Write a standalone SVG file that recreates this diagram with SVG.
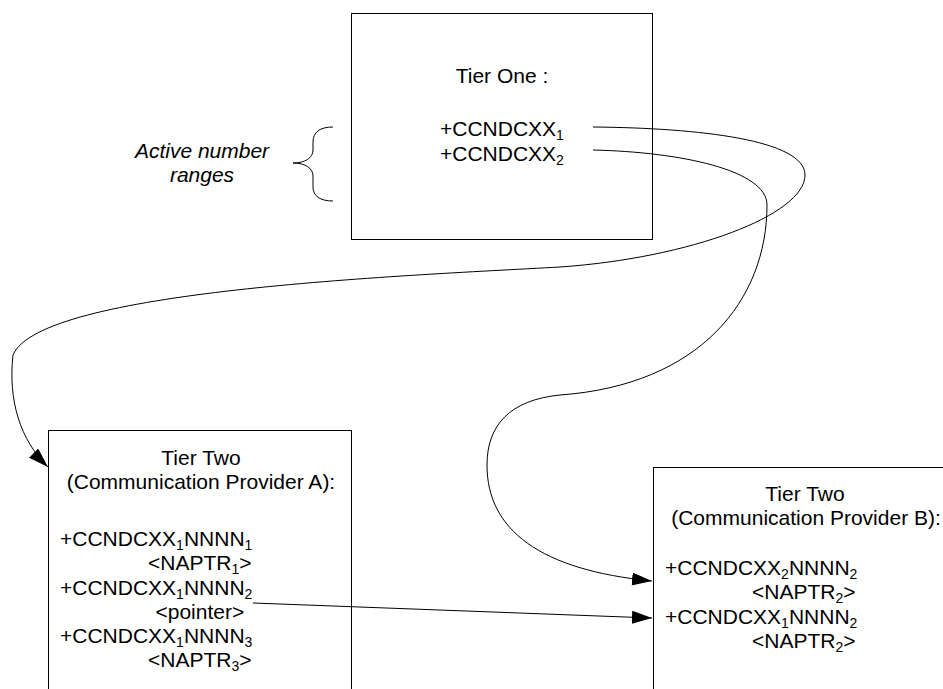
<svg xmlns="http://www.w3.org/2000/svg" width="943" height="689" viewBox="0 0 943 689">
<style>
.t { font-family: "Liberation Sans", Arial, sans-serif; font-size: 21px; fill: #000; }
.i { font-style: italic; }
.s { font-size: 14px; }
.box { fill: #fff; stroke: #000; stroke-width: 1; }
.c { fill: none; stroke: #000; stroke-width: 1; }
</style>
<defs>
<marker id="arr" markerUnits="userSpaceOnUse" markerWidth="21" markerHeight="14" refX="20" refY="6.5" orient="auto">
<path d="M0,0 L20,6.5 L0,13 z" fill="#000"/>
</marker>
</defs>
<rect width="943" height="689" fill="#fff"/>

<g id="tier1">
<rect class="box" x="351.5" y="13.5" width="301" height="226"/>
<text class="t" x="502" y="83" text-anchor="middle">Tier One :</text>
<text class="t" x="440" y="136">+CCNDCXX<tspan class="s" dy="4">1</tspan></text>
<text class="t" x="440" y="161">+CCNDCXX<tspan class="s" dy="4">2</tspan></text>
</g>

<g id="active-ranges">
<text class="t i" x="202" y="158" text-anchor="middle">Active number</text>
<text class="t i" x="202" y="182" text-anchor="middle">ranges</text>
<path class="c" d="M333,127 C320,127 313,132 313,142 L313,150 C313,158 305,163 293,163 C305,163 313,168 313,176 L313,187 C313,196 320,201 333,201"/>
</g>

<g id="tier2a">
<rect class="box" x="48.5" y="430.5" width="303" height="270"/>
<text class="t" x="201" y="465" text-anchor="middle">Tier Two</text>
<text class="t" x="201" y="489" text-anchor="middle">(Communication Provider A):</text>
<text class="t" x="60" y="546">+CCNDCXX<tspan class="s" dy="4">1</tspan><tspan dy="-4">NNNN</tspan><tspan class="s" dy="4">1</tspan></text>
<text class="t" x="148" y="570">&lt;NAPTR<tspan class="s" dy="4">1</tspan><tspan dy="-4">&gt;</tspan></text>
<text class="t" x="60" y="594.5">+CCNDCXX<tspan class="s" dy="4">1</tspan><tspan dy="-4">NNNN</tspan><tspan class="s" dy="4">2</tspan></text>
<text class="t" x="155.5" y="618.5">&lt;pointer&gt;</text>
<text class="t" x="60" y="643">+CCNDCXX<tspan class="s" dy="4">1</tspan><tspan dy="-4">NNNN</tspan><tspan class="s" dy="4">3</tspan></text>
<text class="t" x="148" y="667">&lt;NAPTR<tspan class="s" dy="4">3</tspan><tspan dy="-4">&gt;</tspan></text>
</g>

<g id="tier2b">
<rect class="box" x="653.5" y="467.5" width="310" height="240"/>
<text class="t" x="805" y="501" text-anchor="middle">Tier Two</text>
<text class="t" x="806" y="525" text-anchor="middle">(Communication Provider B):</text>
<text class="t" x="665" y="575">+CCNDCXX<tspan class="s" dy="4">2</tspan><tspan dy="-4">NNNN</tspan><tspan class="s" dy="4">2</tspan></text>
<text class="t" x="752" y="599">&lt;NAPTR<tspan class="s" dy="4">2</tspan><tspan dy="-4">&gt;</tspan></text>
<text class="t" x="665" y="623.5">+CCNDCXX<tspan class="s" dy="4">1</tspan><tspan dy="-4">NNNN</tspan><tspan class="s" dy="4">2</tspan></text>
<text class="t" x="752" y="648">&lt;NAPTR<tspan class="s" dy="4">2</tspan><tspan dy="-4">&gt;</tspan></text>
</g>

<g id="connectors">
<path class="c" marker-end="url(#arr)" d="M593,127 C700,128 805,140 805,175 C805,215 690,258 560,267 C400,276 40,290 13,355 C8,400 20,440 48,467"/>
<path class="c" marker-end="url(#arr)" d="M593,150 C680,152 767,170 767,205 C767,300 700,385 560,395 C510,400 487,425 487,465 C487,530 540,570 652,581"/>
<path class="c" marker-end="url(#arr)" d="M253,603 L652,618"/>
</g>
</svg>
